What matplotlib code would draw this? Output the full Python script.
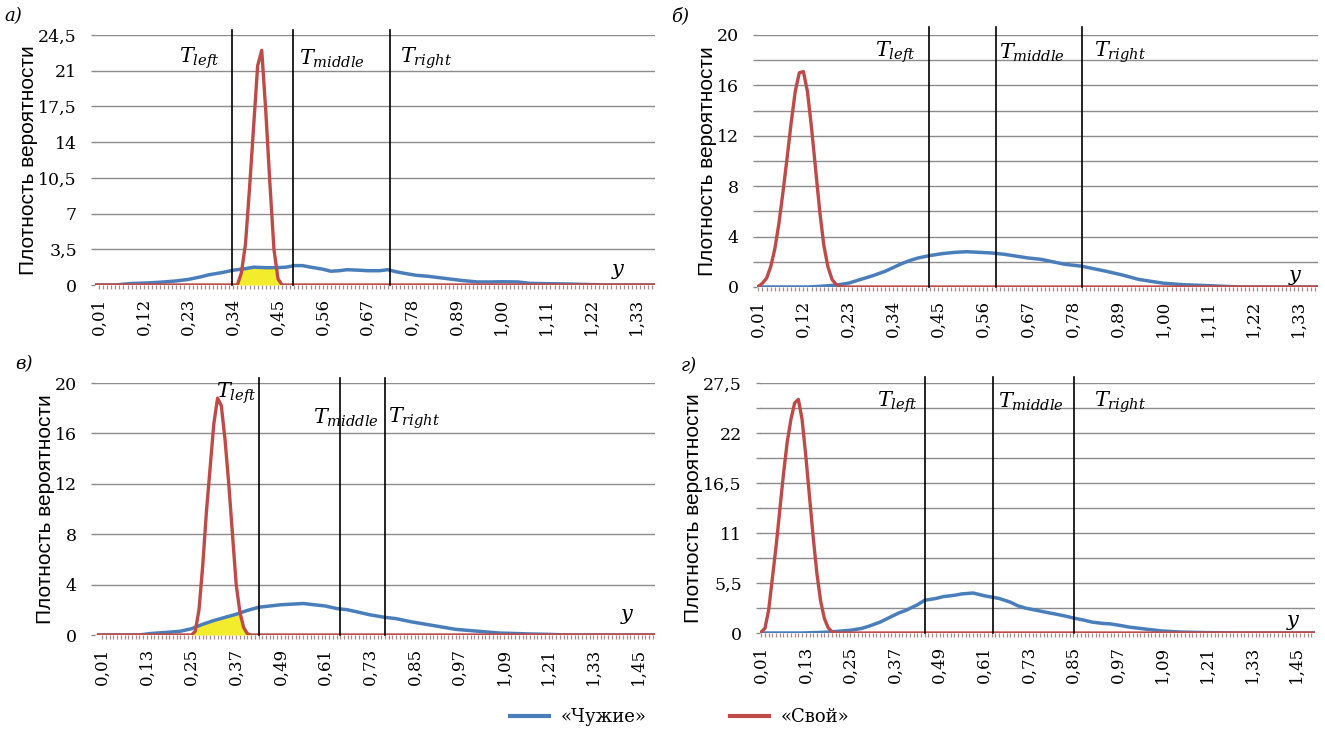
import numpy as np
import matplotlib
matplotlib.use("Agg")
import matplotlib.pyplot as plt
from matplotlib.lines import Line2D
from matplotlib.ticker import FixedLocator, FuncFormatter

plt.rcParams["mathtext.fontset"] = "dejavuserif"
plt.rcParams["font.family"] = ["DejaVu Serif"]

# ---------------- data ----------------
TOP_TICKS = [0.01, 0.12, 0.23, 0.34, 0.45, 0.56, 0.67, 0.78, 0.89, 1.00, 1.11, 1.22, 1.33]
BOTTOM_TICKS = [0.01, 0.13, 0.25, 0.37, 0.49, 0.61, 0.73, 0.85, 0.97, 1.09, 1.21, 1.33, 1.45]

# panel а)
A_RED_X = [0.00, 0.35, 0.36, 0.37, 0.38, 0.39, 0.40, 0.41, 0.42, 0.43, 0.44, 0.45, 0.46, 1.377]
A_RED_Y = [0, 0.0, 1.2, 4.0, 9.5, 15.5, 21.5, 23.0, 17.0, 10.0, 3.5, 0.6, 0.0, 0]
A_BLUE_X = [0.00, 0.05, 0.09, 0.13, 0.17, 0.20, 0.23, 0.26, 0.28, 0.31, 0.34, 0.37, 0.39, 0.42,
            0.45, 0.47, 0.49, 0.51, 0.53, 0.56, 0.58, 0.60, 0.62, 0.65, 0.67, 0.70, 0.72, 0.74,
            0.76, 0.79, 0.82, 0.86, 0.90, 0.94, 0.97, 1.00, 1.04, 1.07, 1.11, 1.16, 1.23, 1.25, 1.377]
A_BLUE_Y = [0, 0, 0.15, 0.2, 0.3, 0.4, 0.55, 0.8, 1.0, 1.2, 1.45, 1.6, 1.75, 1.7,
            1.7, 1.75, 1.9, 1.9, 1.75, 1.55, 1.35, 1.4, 1.5, 1.45, 1.4, 1.4, 1.5, 1.3,
            1.15, 0.95, 0.85, 0.65, 0.45, 0.3, 0.3, 0.32, 0.3, 0.16, 0.13, 0.1, 0.03, 0, 0]
A_T = [0.338, 0.487, 0.726]

# panel б)
B_RED_X = [0.00, 0.01, 0.02, 0.03, 0.04, 0.05, 0.06, 0.07, 0.08, 0.09, 0.10, 0.11, 0.12,
           0.13, 0.14, 0.15, 0.16, 0.17, 0.18, 0.19, 0.20, 0.21, 0.22, 1.378]
B_RED_Y = [0, 0.05, 0.3, 0.7, 1.6, 3.0, 5.0, 7.5, 10.2, 13.0, 15.5, 17.0, 17.1,
           15.5, 12.6, 9.3, 6.0, 3.3, 1.6, 0.6, 0.2, 0.05, 0, 0]
B_BLUE_X = [0.00, 0.13, 0.16, 0.20, 0.23, 0.26, 0.29, 0.32, 0.34, 0.36, 0.38, 0.40, 0.43,
            0.46, 0.49, 0.52, 0.55, 0.58, 0.61, 0.64, 0.67, 0.70, 0.73, 0.76, 0.80, 0.83,
            0.86, 0.90, 0.94, 0.97, 1.00, 1.05, 1.10, 1.15, 1.19, 1.378]
B_BLUE_Y = [0, 0, 0.05, 0.15, 0.3, 0.6, 0.9, 1.25, 1.55, 1.85, 2.1, 2.3, 2.5,
            2.65, 2.75, 2.8, 2.75, 2.7, 2.6, 2.45, 2.3, 2.2, 2.0, 1.8, 1.65, 1.45,
            1.25, 0.95, 0.6, 0.45, 0.3, 0.18, 0.12, 0.05, 0, 0]
B_T = [0.426, 0.591, 0.802]

# panel в)
C_RED_X = [0.00, 0.25, 0.26, 0.27, 0.28, 0.29, 0.30, 0.31, 0.32, 0.33, 0.34, 0.35, 0.36,
           0.37, 0.38, 0.39, 0.40, 0.41, 1.496]
C_RED_Y = [0, 0, 0.3, 2.0, 5.5, 9.8, 13.3, 16.8, 18.8, 18.2, 15.5, 12.0, 8.0,
           4.0, 1.8, 0.6, 0.1, 0, 0]
C_BLUE_X = [0.00, 0.11, 0.14, 0.18, 0.22, 0.25, 0.28, 0.31, 0.34, 0.37, 0.40, 0.43, 0.46,
            0.49, 0.52, 0.55, 0.58, 0.61, 0.64, 0.67, 0.70, 0.73, 0.77, 0.80, 0.84, 0.88,
            0.92, 0.96, 1.00, 1.04, 1.08, 1.12, 1.16, 1.21, 1.26, 1.496]
C_BLUE_Y = [0, 0, 0.12, 0.2, 0.3, 0.5, 0.85, 1.15, 1.4, 1.65, 1.95, 2.2, 2.3,
            2.4, 2.45, 2.5, 2.4, 2.3, 2.1, 2.0, 1.8, 1.6, 1.4, 1.3, 1.05, 0.85,
            0.65, 0.45, 0.35, 0.25, 0.15, 0.12, 0.08, 0.05, 0, 0]
C_T = [0.432, 0.648, 0.770]

# panel г)
D_RED_X = [0.00, 0.01, 0.02, 0.03, 0.04, 0.05, 0.06, 0.07, 0.08, 0.09, 0.10, 0.11,
           0.12, 0.13, 0.14, 0.15, 0.16, 0.17, 0.18, 0.19, 0.20, 0.21, 1.50]
D_RED_Y = [0, 0.1, 0.5, 2.5, 6.0, 9.5, 13.5, 17.5, 21.0, 23.5, 25.3, 25.7,
           23.5, 19.5, 15.0, 10.5, 6.5, 3.5, 1.6, 0.6, 0.15, 0, 0]
D_BLUE_X = [0.00, 0.12, 0.16, 0.19, 0.22, 0.25, 0.28, 0.30, 0.33, 0.35, 0.38, 0.40, 0.43,
            0.45, 0.48, 0.50, 0.53, 0.55, 0.58, 0.61, 0.63, 0.65, 0.68, 0.70, 0.72, 0.75,
            0.78, 0.80, 0.83, 0.85, 0.88, 0.90, 0.93, 0.95, 0.98, 1.00, 1.03, 1.05, 1.09,
            1.14, 1.20, 1.26, 1.30, 1.50]
D_BLUE_Y = [0, 0, 0.05, 0.1, 0.2, 0.3, 0.5, 0.75, 1.2, 1.6, 2.2, 2.5, 3.1,
            3.6, 3.8, 4.0, 4.15, 4.3, 4.4, 4.1, 3.95, 3.8, 3.4, 3.0, 2.75, 2.5,
            2.25, 2.1, 1.85, 1.65, 1.4, 1.2, 1.05, 1.0, 0.8, 0.65, 0.5, 0.4, 0.22,
            0.1, 0.05, 0.02, 0, 0]
D_T = [0.450, 0.634, 0.852]

A_YGRID = [0, 3.5, 7, 10.5, 14, 17.5, 21, 24.5]
A_YLAB = [0, 3.5, 7, 10.5, 14, 17.5, 21, 24.5]
B_YGRID = [0, 2, 4, 6, 8, 10, 12, 14, 16, 18, 20]
B_YLAB = [0, 4, 8, 12, 16, 20]
C_YGRID = [0, 4, 8, 12, 16, 20]
C_YLAB = [0, 4, 8, 12, 16, 20]
D_YGRID = [0, 2.75, 5.5, 8.25, 11, 13.75, 16.5, 19.25, 22, 24.75, 27.5]
D_YLAB = [0, 5.5, 11, 16.5, 22, 27.5]

T_NAMES = [r"$T_{left}$", r"$T_{middle}$", r"$T_{right}$"]
YLABEL = "Плотность вероятности"
LEGEND_LABELS = ["«Чужие»", "«Свой»"]
PANEL_LETTERS = ["а)", "б)", "в)", "г)"]

# ---------------- style ----------------
BLUE = "#4a7ebb"
RED = "#be4b48"
YELLOW = "#f3ec2c"
GRID = "#8c8c8c"
TICKC = "#a88888"
W, H = 1325, 731

fig = plt.figure(figsize=(W / 100, H / 100), dpi=100)


def comma(v):
    s = ("%.2f" % v).rstrip("0").rstrip(".")
    return s.replace(".", ",")


panels = [
    dict(px=(95, 35, 655, 285), xlim=(0.0, 1.377), xt=TOP_TICKS, yg=A_YGRID, yl=A_YLAB,
         red=(A_RED_X, A_RED_Y), blue=(A_BLUE_X, A_BLUE_Y), T=A_T, fill=True, ext=0.02,
         tl=[("right", -13, 22.2), ("left", 6, 22.2), ("left", 10, 22.2)],
         ylab=-0.102, ypos=(1.285, 1.5), letter=(4, 16)),
    dict(px=(757, 35, 1318, 287), xlim=(0.0066, 1.378), xt=TOP_TICKS, yg=B_YGRID, yl=B_YLAB,
         red=(B_RED_X, B_RED_Y), blue=(B_BLUE_X, B_BLUE_Y), T=B_T, fill=False, ext=0.032,
         tl=[("right", -13, 18.6), ("left", 3, 18.6), ("left", 12, 18.6)],
         ylab=-0.072, ypos=(1.32, 0.95), letter=(671, 16)),
    dict(px=(95, 383, 655, 635), xlim=(-0.0096, 1.496), xt=BOTTOM_TICKS, yg=C_YGRID, yl=C_YLAB,
         red=(C_RED_X, C_RED_Y), blue=(C_BLUE_X, C_BLUE_Y), T=C_T, fill=True, ext=0.02,
         tl=[("right", -3, 19.2), ("left", -27, 17.2), ("left", 3, 17.2)],
         ylab=-0.071, ypos=(1.42, 1.6), letter=(15, 364)),
    dict(px=(760, 383, 1315, 633), xlim=(0.0068, 1.50), xt=BOTTOM_TICKS, yg=D_YGRID, yl=D_YLAB,
         red=(D_RED_X, D_RED_Y), blue=(D_BLUE_X, D_BLUE_Y), T=D_T, fill=False, ext=0.024,
         tl=[("right", -7, 25.4), ("left", 5, 25.4), ("left", 20, 25.4)],
         ylab=-0.103, ypos=(1.44, 1.4), letter=(681, 366)),
]

for i, p in enumerate(panels):
    x0, y0, x1, y1 = p["px"]
    ax = fig.add_axes([x0 / W, 1 - y1 / H, (x1 - x0) / W, (y1 - y0) / H])
    ax.set_xlim(*p["xlim"])
    ax.set_ylim(0, p["yg"][-1])
    for s in ax.spines.values():
        s.set_visible(False)

    # y axis: gridlines at every grid value, labels only on labelled ones
    labs = p["yl"]
    ax.yaxis.set_major_locator(FixedLocator(p["yg"]))
    ax.yaxis.set_major_formatter(FuncFormatter(
        lambda v, pos, labs=labs: comma(v) if any(abs(v - l) < 1e-6 for l in labs) else ""))
    ax.yaxis.grid(True, color=GRID, lw=1.0)
    ax.set_axisbelow(True)
    ax.tick_params(axis="y", which="major", length=3, width=1.0, color=GRID,
                   labelsize=12.5, pad=10)

    # x axis: category ticks every 0.01, labels on a fixed interval
    ax.xaxis.set_major_locator(FixedLocator(p["xt"]))
    ax.xaxis.set_major_formatter(FuncFormatter(lambda v, pos: ("%.2f" % v).replace(".", ",")))
    ax.xaxis.set_minor_locator(FixedLocator(np.round(np.arange(0.01, p["xlim"][1], 0.01), 2)))
    ax.tick_params(axis="x", which="both", direction="out", length=3.2, width=0.9,
                   color=TICKC, labelsize=12, pad=6, labelrotation=90)

    rx, ry = p["red"]
    bx, by = p["blue"]
    if p["fill"]:
        xs = np.union1d(rx, bx)
        lo = np.minimum(np.interp(xs, rx, ry), np.interp(xs, bx, by))
        ax.fill_between(xs, 0, lo, where=lo > 0, color=YELLOW, lw=0, zorder=2,
                        interpolate=True)
    ax.plot(bx, by, color=BLUE, lw=2.5, zorder=3, solid_joinstyle="round")
    ax.plot(rx, ry, color=RED, lw=2.4, zorder=4, solid_joinstyle="round")

    for t, name, (ha, dx, yv) in zip(p["T"], T_NAMES, p["tl"]):
        ax.axvline(t, ymin=0, ymax=1 + p["ext"], color="black", lw=1.2, clip_on=False, zorder=5)
        ax.annotate(name, xy=(t, yv), xytext=(dx * 0.72, 0), textcoords="offset points",
                    ha=ha, va="center", fontsize=15, zorder=6)

    ax.text(p["ypos"][0], p["ypos"][1], "y", fontstyle="italic", fontsize=15,
            ha="center", va="center")

    ax.set_ylabel(YLABEL, fontfamily=["Liberation Sans", "DejaVu Sans"], fontsize=15)
    ax.yaxis.set_label_coords(p["ylab"], 0.5)

    lx, ly = p["letter"]
    fig.text(lx / W, 1 - ly / H, PANEL_LETTERS[i], fontstyle="italic", fontsize=13,
             ha="left", va="center")

handles = [Line2D([], [], color=BLUE, lw=3), Line2D([], [], color=RED, lw=3)]
fig.legend(handles, LEGEND_LABELS, loc="center", bbox_to_anchor=(0.513, 0.019), ncol=2,
           frameon=False, prop={"family": "DejaVu Serif", "size": 13}, handlelength=2.15,
           handletextpad=0.67, columnspacing=4.6)

fig.savefig("out.png", dpi=100)
